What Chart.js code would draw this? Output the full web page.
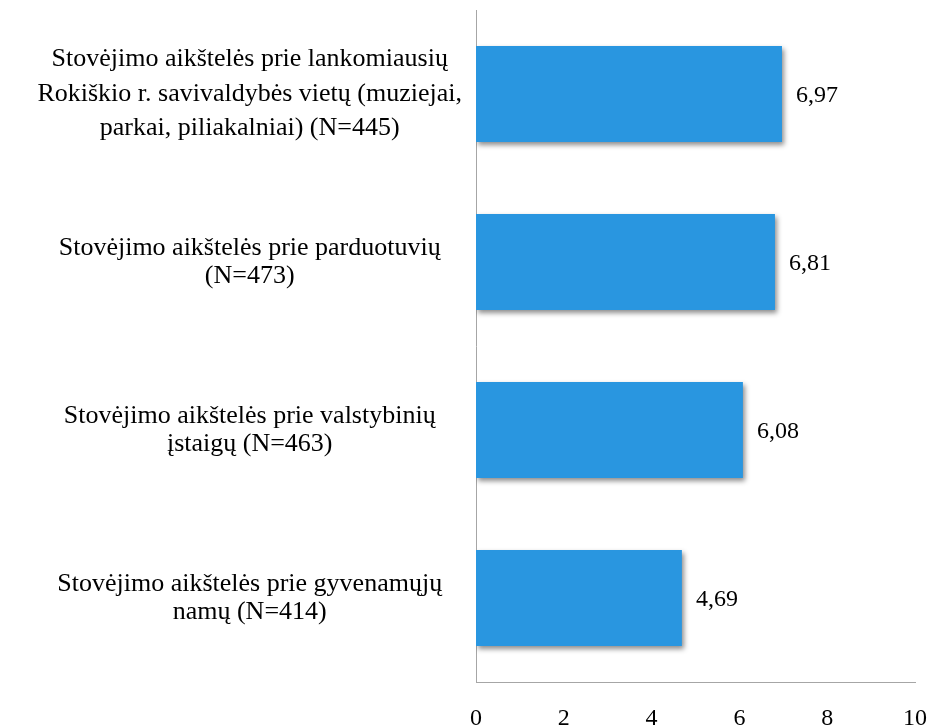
<!DOCTYPE html>
<html>
<head>
<meta charset="utf-8">
<script src="https://cdn.jsdelivr.net/npm/chart.js@4/dist/chart.umd.min.js"></script>
<style>
  html, body { margin: 0; padding: 0; background: #fff; overflow: hidden; }
  #wrap { width: 932px; height: 727px; }
</style>
</head>
<body>
<div id="wrap"><canvas id="parkingChart"></canvas></div>
<script>
var categoryLabels = [
    ['Stovėjimo aikštelės prie lankomiausių', 'Rokiškio r. savivaldybės vietų (muziejai,', 'parkai, piliakalniai) (N=445)'],
    ['Stovėjimo aikštelės prie parduotuvių', '(N=473)'],
    ['Stovėjimo aikštelės prie valstybinių', 'įstaigų (N=463)'],
    ['Stovėjimo aikštelės prie gyvenamųjų', 'namų (N=414)']
];
var scoreValues = [6.97, 6.81, 6.08, 4.69];
var axisMin = 0;
var axisMax = 10;
var axisStep = 2;

var serifFont = '"Liberation Serif", "Times New Roman", serif';

var barShadow = {
    id: 'barShadow',
    beforeDatasetsDraw: function(chart) {
        var ctx = chart.ctx;
        ctx.save();
        ctx.shadowColor = 'rgba(0, 0, 0, 0.45)';
        ctx.shadowBlur = 5;
        ctx.shadowOffsetX = 2;
        ctx.shadowOffsetY = 3;
    },
    afterDatasetsDraw: function(chart) {
        var ctx = chart.ctx;
        ctx.restore();
        var meta = chart.getDatasetMeta(0);
        ctx.save();
        ctx.font = '24px ' + serifFont;
        ctx.fillStyle = '#000';
        ctx.textAlign = 'left';
        ctx.textBaseline = 'middle';
        meta.data.forEach(function(bar, i) {
            var txt = scoreValues[i].toFixed(2).replace('.', ',');
            ctx.fillText(txt, bar.x + 14, bar.y + 2);
        });
        ctx.restore();
    }
};

function createParkingChart()
{
    var ctx = document.getElementById('parkingChart').getContext('2d');

    var myChart = new Chart(ctx, {
        type: 'bar',
        data: {
            labels: categoryLabels,
            datasets: [
                {
                data: scoreValues,
                backgroundColor: 'rgb(41, 150, 224)',
                borderWidth: 0,
                categoryPercentage: 1,
                barPercentage: 0.57
            }
        ]
        },
        options: {
            indexAxis: 'y',
            responsive: true,
            maintainAspectRatio: false,
            animation: false,
            layout: {
                padding: { top: 10, right: 17, left: 0, bottom: 0 }
            },
            plugins: {
                legend: { display: false },
                tooltip: { enabled: false }
            },
            scales: {
                x: {
                    min: axisMin,
                    max: axisMax,
                    grid: { display: false },
                    border: { display: true, color: '#A6A6A6', width: 1 },
                    ticks: {
                        stepSize: axisStep,
                        padding: 14,
                        color: '#000',
                        font: { family: serifFont, size: 24 }
                    },
                    afterFit: function(scale) {
                        scale.height = 45;
                        scale.paddingLeft = 0;
                        scale.paddingRight = 0;
                    }
                },
                y: {
                    grid: { display: false },
                    border: { display: true, color: '#A6A6A6', width: 1 },
                    ticks: {
                        crossAlign: 'center',
                        padding: 6,
                        color: '#000',
                        font: function(c) {
                            return {
                                family: serifFont,
                                size: 26,
                                lineHeight: c.index === 0 ? 1.33 : 1.08
                            };
                        }
                    },
                    afterFit: function(scale) {
                        scale.width = 476;
                        scale.paddingTop = 0;
                        scale.paddingBottom = 0;
                    }
                }
            }
        },
        plugins: [barShadow]
    });
}

createParkingChart();
</script>
</body>
</html>
